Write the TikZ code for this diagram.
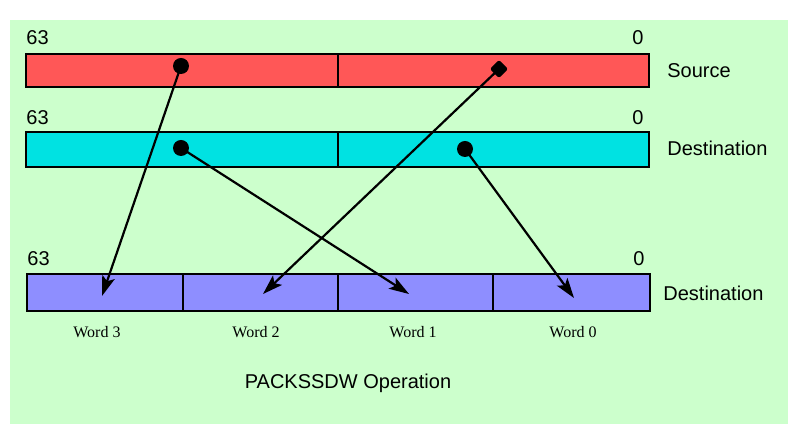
\documentclass[tikz,border=0pt]{standalone}
\usepackage{fontspec}
\setmainfont{Liberation Sans}
\newfontfamily\wordfont{Liberation Serif}
\usetikzlibrary{arrows.meta}

\definecolor{bggreen}{RGB}{204,255,204}
\definecolor{srcred}{RGB}{255,87,87}
\definecolor{dstcyan}{RGB}{0,226,226}
\definecolor{respurple}{RGB}{142,142,255}

\tikzset{
  bitnum/.style={inner sep=0pt,font=\fontsize{10}{12}\selectfont},
  regname/.style={anchor=west,inner sep=0pt,font=\fontsize{10}{12}\selectfont},
  wordlbl/.style={inner sep=0pt,font=\wordfont\fontsize{8}{10}\selectfont},
  dot/.style={circle,fill=black,inner sep=0pt,minimum size=8pt},
  sqdot/.style={rectangle,rotate=45,fill=black,inner sep=0pt,minimum size=6.5pt,rounded corners=1.2pt},
  move/.style={line width=1.1pt,-{Stealth[length=10pt,width=6.5pt,inset=2.2pt]}},
  cell/.style={draw=black,line width=0.75pt}
}

\begin{document}
\begin{tikzpicture}[x=0.5pt,y=-0.5pt]
        \useasboundingbox (0,0) rectangle (810,432);
        \fill[bggreen] (10,20) rectangle (788,424);

        \draw[cell,fill=srcred] (26,54) rectangle (649,87);
        \draw[cell] (338,54) -- (338,87);
        \node[bitnum,anchor=base west] (s63) at (26,45) {63};
        \node[bitnum,anchor=base east] (s0) at (644,45) {0};
        \node[regname] (srcname) at (667,71) {Source};

        \draw[cell,fill=dstcyan] (26,132) rectangle (649,167);
        \draw[cell] (338,132) -- (338,167);
        \node[bitnum,anchor=base west] (d63) at (26,125) {63};
        \node[bitnum,anchor=base east] (d0) at (644,125) {0};
        \node[regname] (dstname) at (667,148) {Destination};

        \draw[cell,fill=respurple] (27,274) rectangle (650,311);
        \foreach \x in {183,338,493}
            \draw[cell] (\x,274) -- (\x,311);
        \node[bitnum,anchor=base west] (r63) at (27,266) {63};
        \node[bitnum,anchor=base east] (r0) at (645,266) {0};
        \node[regname] (resname) at (663,293) {Destination};

        \node[wordlbl] (w3) at (97,332) {Word 3};
        \node[wordlbl] (w2) at (256,332) {Word 2};
        \node[wordlbl] (w1) at (413,332) {Word 1};
        \node[wordlbl] (w0) at (573,332) {Word 0};

        \node[dot] (sa) at (181,66) {};
        \node[sqdot] (sb) at (499,69) {};
        \node[dot] (da) at (181,148) {};
        \node[dot] (db) at (465,149) {};

        \coordinate (t3) at (102,296);
        \coordinate (t2) at (263,294);
        \coordinate (t1) at (409,294);
        \coordinate (t0) at (574,298);

        \draw[move] (sa.center) -- (t3);
        \draw[move] (sb.center) -- (t2);
        \draw[move] (da.center) -- (t1);
        \draw[move] (db.center) -- (t0);

        \node[inner sep=0pt,font=\fontsize{10}{12}\selectfont] (title) at (348,383) {PACKSSDW Operation};
\end{tikzpicture}
\end{document}
